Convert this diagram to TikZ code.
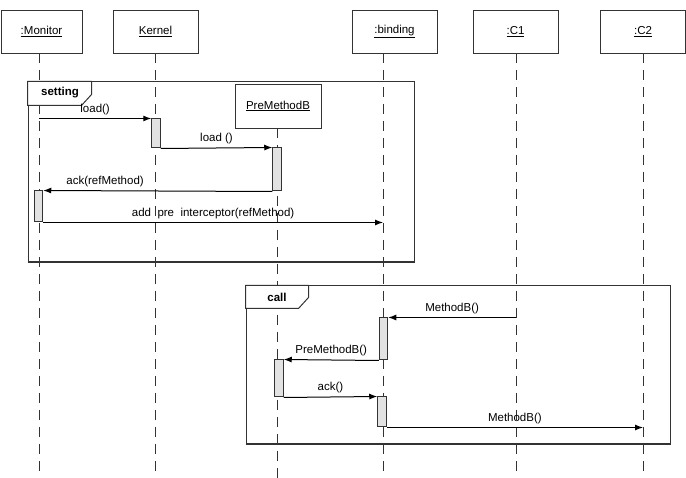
\documentclass[tikz,border=0pt]{standalone}
\usepackage{fontspec}
\setmainfont{Liberation Sans}
\usepackage{tikz}
\tikzset{>=latex}
\usetikzlibrary{arrows.meta}
\usetikzlibrary{calc}
\definecolor{act grey}{HTML}{E2E2E2}
\definecolor{line grey}{HTML}{333333}

\begin{document}
\begin{tikzpicture}[x=1pt, y=-1pt]
            \tikzset{head/.style={draw=line grey, fill=white, minimum width=85pt, minimum height=43pt, inner sep=0pt, font={\fontsize{11.5}{13}\selectfont}}}
            \tikzset{lifeline/.style={line grey, line width=1pt, dash pattern=on 10pt off 7pt}}
            \tikzset{act/.style={draw=line grey, fill=act grey, line width=1pt, minimum width=8.5pt, inner sep=0pt}}
            \tikzset{msg/.style={-{Latex[length=8pt, width=6pt]}, line width=1pt}}
            \tikzset{lbl/.style={font={\fontsize{11.5}{13}\selectfont}, inner sep=3.5pt, above}}
            \tikzset{frame/.style={draw=line grey, line width=1pt, inner sep=0pt}}
            \tikzset{tab/.style={draw=line grey, fill=white, line width=1pt}}
            \useasboundingbox (0, 0) rectangle (686, 478);
            \coordinate (bottom) at (0, 478);

            \coordinate (lmon) at (39, 53);
            \coordinate (lker) at (155, 53);
            \coordinate (lpre) at (277, 128);
            \coordinate (lbnd) at (383, 53);
            \coordinate (lcone) at (516, 53);
            \coordinate (lctwo) at (643, 53);
            \foreach \l in {lmon, lker, lpre, lbnd, lcone, lctwo}
                \draw[lifeline] (\l) -- (\l |- bottom);

            \node[frame, minimum width=386pt, minimum height=180pt] (setting) at (221, 172) {};
            \draw[line grey, line width=1.6pt] (setting.south west) -- (setting.south east);
            \draw[tab] (setting.north west) -- ++(0, 24) -- ++(54, 0) -- ++(10, -11) -- ++(0, -13) -- cycle;
            \node[font={\fontsize{11.5}{13}\selectfont\bfseries}] (settinglabel) at (60, 93) {setting};

            \node[frame, minimum width=424pt, minimum height=158pt] (call) at (458, 365) {};
            \draw[line grey, line width=1.6pt] (call.south west) -- (call.south east);
            \draw[tab] (call.north west) -- ++(0, 23) -- ++(53, 0) -- ++(10, -11) -- ++(0, -12) -- cycle;
            \node[font={\fontsize{11.5}{13}\selectfont\bfseries}] (calllabel) at (277, 297) {call};

            \node[act, minimum height=29pt] (kact) at (156, 133.5) {};
            \node[act, minimum height=43pt] (pactone) at (277, 169.5) {};
            \node[act, minimum height=31pt] (mact) at (38.5, 206.5) {};
            \node[act, minimum height=42pt] (bactone) at (383.5, 339) {};
            \node[act, minimum height=37pt] (pacttwo) at (279, 378.5) {};
            \node[act, minimum height=30pt] (bacttwo) at (382, 412) {};

            \draw[msg] (lmon |- kact.north west) -- (kact.north west) node[lbl, midway] {load()};
            \draw[msg] (kact.south east) -- (pactone.north west) node[lbl, midway] {load ()};
            \draw[msg] (pactone.south west) -- (mact.north east) node[lbl, pos=0.73] {ack(refMethod)};
            \draw[msg] (mact.south east) -- (lbnd |- mact.south east) node[lbl, midway] {add\ \ pre\ \ interceptor(refMethod)};
            \draw[msg] (lcone |- bactone.north east) -- (bactone.north east) node[lbl, midway] {MethodB()};
            \draw[msg] (bactone.south west) -- (pacttwo.north east) node[lbl, midway] {PreMethodB()};
            \draw[msg] (pacttwo.south east) -- (bacttwo.north west) node[lbl, midway] {ack()};
            \draw[msg] (bacttwo.south east) -- (lctwo |- bacttwo.south east) node[lbl, midway] {MethodB()};

            \node[head, minimum width=81pt] (monitor) at (41.5, 31.5) {\underline{:Monitor}};
            \node[head] (kernel) at (155.5, 31.5) {\underline{Kernel}};
            \node[head, minimum width=86pt, minimum height=44pt] (premethod) at (278, 106) {\underline{PreMethodB}};
            \node[head] (binding) at (394.5, 31.5) {\underline{:binding}};
            \node[head] (cone) at (515.5, 31.5) {\underline{:C1}};
            \node[head] (ctwo) at (643, 31.5) {\underline{:C2}};
        \end{tikzpicture}
\end{document}
